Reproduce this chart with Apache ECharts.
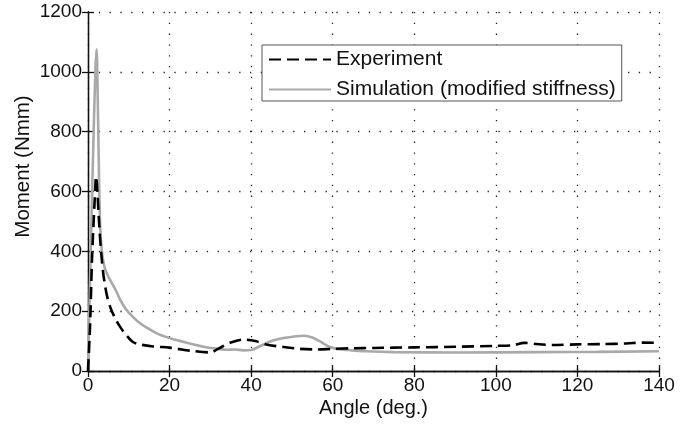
<!DOCTYPE html>
<html>
<head>
<meta charset="utf-8">
<script src="https://cdn.jsdelivr.net/npm/echarts@6/dist/echarts.min.js"></script>
<style>
  html, body { margin: 0; padding: 0; background: #fff; }
  #chart { width: 684px; height: 426px; }
</style>
</head>
<body>
<div id="chart"></div>
<script>
  // values
  let expAngle  = [0, 0.5, 1, 1.6, 2, 2.3, 2.7, 3.2, 3.8, 4.6, 5.5, 6.6, 8, 9.5, 11, 13, 16, 20, 25, 30, 32, 35, 38, 41, 44, 48, 52, 56, 60, 65, 70, 80, 90, 100, 104, 107, 110, 114, 120, 126, 132, 136, 140];
  let expMoment = [0, 150, 380, 560, 650, 600, 500, 400, 320, 255, 212, 178, 145, 118, 97, 88, 82, 78, 68, 62, 75, 95, 105, 100, 88, 80, 74, 72, 74, 76, 77, 79, 81, 84, 86, 94, 90, 87, 89, 90, 92, 95, 94];

  let simAngle  = [0, 0.5, 1.2, 1.8, 2.1, 2.4, 2.7, 3, 3.4, 4, 5, 6, 7, 8, 9, 10, 12, 14, 17, 20, 24, 28, 32, 34, 36, 38, 40, 42, 45, 48, 51, 53, 55, 57, 59, 61, 64, 68, 75, 90, 110, 125, 140];
  let simMoment = [0, 300, 700, 1000, 1075, 900, 650, 480, 400, 350, 315, 290, 265, 235, 212, 195, 168, 148, 125, 110, 95, 82, 74, 71, 72, 69, 70, 82, 100, 110, 116, 118, 112, 98, 82, 74, 70, 66, 63, 62, 63, 64, 66];

  let xTicks = {min: 0, max: 140, step: 20};
  let yTicks = {min: 0, max: 1200, step: 200};

  let zip = (a, b) => a.map((v, i) => [v, b[i]]);

  let chart = echarts.init(document.getElementById('chart'));
  let font = '"Liberation Sans", Arial, sans-serif';
  let txt = '#111';

  let frameLine = {show: true, lineStyle: {color: '#111', width: 1.3}};
  let inTick = {show: true, inside: true, length: 6, lineStyle: {color: '#111', width: 1.3}};
  let dotted = {show: true, lineStyle: {color: '#222', width: 1.3, type: [1.3, 9.5]}};
  let plain = v => String(v);

  let option = {
    animation: false,
    backgroundColor: '#fff',
    grid: {left: 88, right: 25, top: 12, bottom: 55},
    legend: {
      orient: 'vertical',
      left: 262,
      top: 45,
      backgroundColor: '#fff',
      borderColor: '#555',
      borderWidth: 1,
      borderRadius: 0,
      padding: [4, 6, 1, 6],
      itemWidth: 62,
      itemHeight: 14,
      itemGap: 9,
      itemStyle: {opacity: 0},
      textStyle: {fontFamily: font, fontSize: 21, color: txt},
      data: ['Experiment', 'Simulation (modified stiffness)']
    },
    xAxis: [{
      type: 'value',
      min: xTicks.min, max: xTicks.max, interval: xTicks.step,
      name: 'Angle (deg.)',
      nameLocation: 'middle',
      nameGap: 27,
      nameMoveOverlap: false,
      nameTextStyle: {fontFamily: font, fontSize: 20, color: txt},
      axisLine: frameLine,
      axisTick: inTick,
      axisLabel: {fontFamily: font, fontSize: 19, color: txt, margin: 5, formatter: plain},
      splitLine: dotted
    }, {
      type: 'value', position: 'top',
      min: xTicks.min, max: xTicks.max, interval: xTicks.step,
      axisLine: frameLine, axisTick: inTick,
      axisLabel: {show: false}, splitLine: {show: false}
    }],
    yAxis: [{
      type: 'value',
      min: yTicks.min, max: yTicks.max, interval: yTicks.step,
      name: 'Moment (Nmm)',
      nameLocation: 'middle',
      nameGap: 54,
      nameMoveOverlap: false,
      nameTextStyle: {fontFamily: font, fontSize: 20.5, color: txt, padding: [0, 0, 0, 50]},
      axisLine: frameLine,
      axisTick: inTick,
      axisLabel: {fontFamily: font, fontSize: 19, color: txt, margin: 6, formatter: plain},
      splitLine: dotted
    }, {
      type: 'value', position: 'right',
      min: yTicks.min, max: yTicks.max, interval: yTicks.step,
      axisLine: frameLine, axisTick: inTick,
      axisLabel: {show: false}, splitLine: {show: false}
    }],
    series: [{
      name: 'Experiment',
      type: 'line',
      z: 3,
      showSymbol: false,
      symbol: 'none',
      smooth: 0.3,
      data: zip(expAngle, expMoment),
      lineStyle: {color: '#000', width: 2.6, type: [12, 6]},
      itemStyle: {color: '#000'}
    }, {
      name: 'Simulation (modified stiffness)',
      type: 'line',
      z: 2,
      showSymbol: false,
      symbol: 'none',
      smooth: 0.3,
      data: zip(simAngle, simMoment),
      lineStyle: {color: '#a9a9a9', width: 2.6},
      itemStyle: {color: '#a9a9a9'}
    }]
  };
  chart.setOption(option);
</script>
</body>
</html>
